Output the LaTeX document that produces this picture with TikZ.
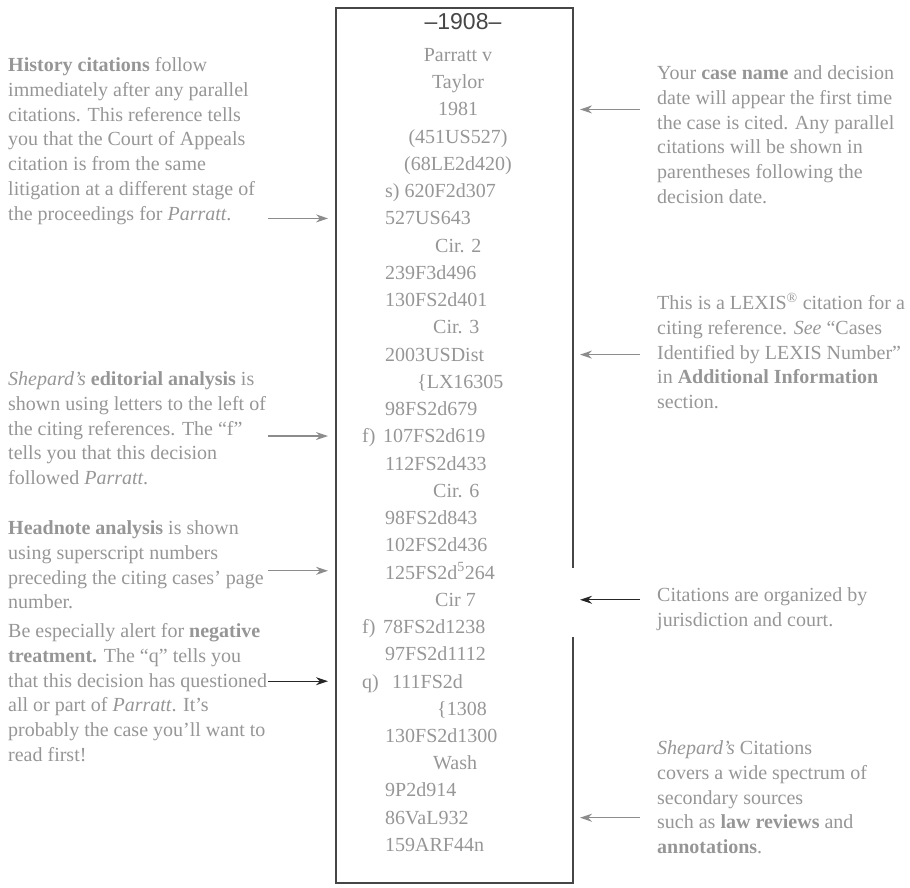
\documentclass[tikz,border=0pt]{standalone}
\usepackage{fontspec}
\setmainfont{Liberation Serif}
\newfontfamily\yearfont{Liberation Sans}
\usetikzlibrary{calc}
\usetikzlibrary{arrows.meta}
\definecolor{scangray}{RGB}{150,150,150}
\definecolor{framegray}{RGB}{70,70,70}
\definecolor{pointergray}{RGB}{140,140,140}
\tikzset{
  coltext/.style={inner sep=0pt, text=scangray, font=\fontsize{20}{25}\selectfont},
  notetext/.style={inner sep=0pt, text=scangray, align=left, font=\fontsize{20}{24.8}\selectfont},
  pointer/.style={draw=pointergray, line width=1.3pt, -{Stealth[length=12pt,width=8pt]}},
  darkpointer/.style={pointer, draw=black!85}
}
\newcommand{\noteblock}[4]{
  \node[notetext, anchor=north west] (#1) at (#2,#3) {\strut #4};
}
\newcommand{\colline}[4]{
  \node[coltext, anchor=base west] (#1) at (#2, {55+(#3-1)*27.24+6.5}) {#4};
}

\begin{document}
\begin{tikzpicture}[x=1pt, y=-1pt]
      \useasboundingbox (0,0) rectangle (910,887);
      \coordinate (boxNW) at (336,8);
      \coordinate (boxSE) at (573,883);
      \coordinate (gaptop) at (573,568);
      \coordinate (gapbot) at (573,637);
      \draw[framegray, line width=1.4pt] (gaptop) -- (boxSE |- boxNW) -- (boxNW)
        -- (boxNW |- boxSE) -- (boxSE) -- (gapbot);

      \node[text=framegray, font=\yearfont\fontsize{23}{23}\selectfont] (year) at (463,22) {–1908–};

      \foreach \i/\t in {1/{Parratt v}, 2/Taylor, 3/1981, 4/(451US527), 5/(68LE2d420)} {
        \node[coltext, anchor=base] (l\i) at (458, {55+(\i-1)*27.24+6.5}) {\t};
      }
      \foreach \x/\i/\t in {385/6/{s) 620F2d307}, 385/7/527US643, 435/8/Cir. 2,
          385/9/239F3d496, 385/10/130FS2d401, 433/11/Cir. 3, 385/12/2003USDist,
          417/13/\{LX16305, 385/14/98FS2d679, 383/15/107FS2d619, 385/16/112FS2d433,
          433/17/Cir. 6, 385/18/98FS2d843, 385/19/102FS2d436,
          385/20/125FS2d\textsuperscript{5}264, 435/21/Cir 7, 383/22/78FS2d1238,
          385/23/97FS2d1112, 392/24/111FS2d, 437/25/\{1308, 385/26/130FS2d1300,
          433/27/Wash, 385/28/9P2d914, 385/29/86VaL932, 385/30/159ARF44n} {
        \colline{l\i}{\x}{\i}{\t}
      }
      \colline{f15}{362}{15}{f)}
      \colline{f22}{362}{22}{f)}
      \colline{q24}{362}{24}{q)}

      \noteblock{history}{8}{54}{\textbf{History citations} follow\\
        immediately after any parallel\\ citations. This reference tells\\
        you that the Court of Appeals\\ citation is from the same\\
        litigation at a different stage of\\ the proceedings for \textit{Parratt}.}
      \noteblock{editorial}{8}{368}{\textit{Shepard's} \textbf{editorial analysis} is\\
        shown using letters to the left of\\ the citing references. The ``f''\\
        tells you that this decision\\ followed \textit{Parratt}.}
      \noteblock{headnote}{8}{517}{\textbf{Headnote analysis} is shown\\
        using superscript numbers\\ preceding the citing cases' page\\ number.}
      \noteblock{negative}{8}{620}{Be especially alert for \textbf{negative}\\
        \textbf{treatment.} The ``q'' tells you\\ that this decision has questioned\\
        all or part of \textit{Parratt}. It's\\ probably the case you'll want to\\ read first!}

      \noteblock{casename}{657}{62}{Your \textbf{case name} and decision\\
        date will appear the first time\\ the case is cited. Any parallel\\
        citations will be shown in\\ parentheses following the\\ decision date.}
      \noteblock{lexis}{657}{292}{This is a LEXIS\textsuperscript{\textregistered} citation for a\\
        citing reference. \textit{See} ``Cases\\ Identified by LEXIS Number''\\
        in \textbf{Additional Information}\\ section.}
      \noteblock{court}{657}{584}{Citations are organized by\\ jurisdiction and court.}
      \noteblock{sources}{657}{737}{\textit{Shepard's} Citations\\
        covers a wide spectrum of\\ secondary sources\\
        such as \textbf{law reviews} and\\ \textbf{annotations}.}

      \coordinate (lefttail) at (268,0);
      \coordinate (lefttip) at (328,0);
      \coordinate (righttail) at (640,0);
      \coordinate (righttip) at (580,0);
      \draw[pointer] (lefttail |- l7) -- (lefttip |- l7);
      \draw[pointer] (lefttail |- l15) -- (lefttip |- l15);
      \draw[pointer] (lefttail |- l20) -- (lefttip |- l20);
      \draw[darkpointer] (lefttail |- l24) -- (lefttip |- l24);
      \draw[pointer] (righttail |- l3) -- (righttip |- l3);
      \draw[pointer] (righttail |- l12) -- (righttip |- l12);
      \draw[darkpointer] (righttail |- l21) -- (righttip |- l21);
      \draw[pointer] (righttail |- l29) -- (righttip |- l29);
\end{tikzpicture}
\end{document}
